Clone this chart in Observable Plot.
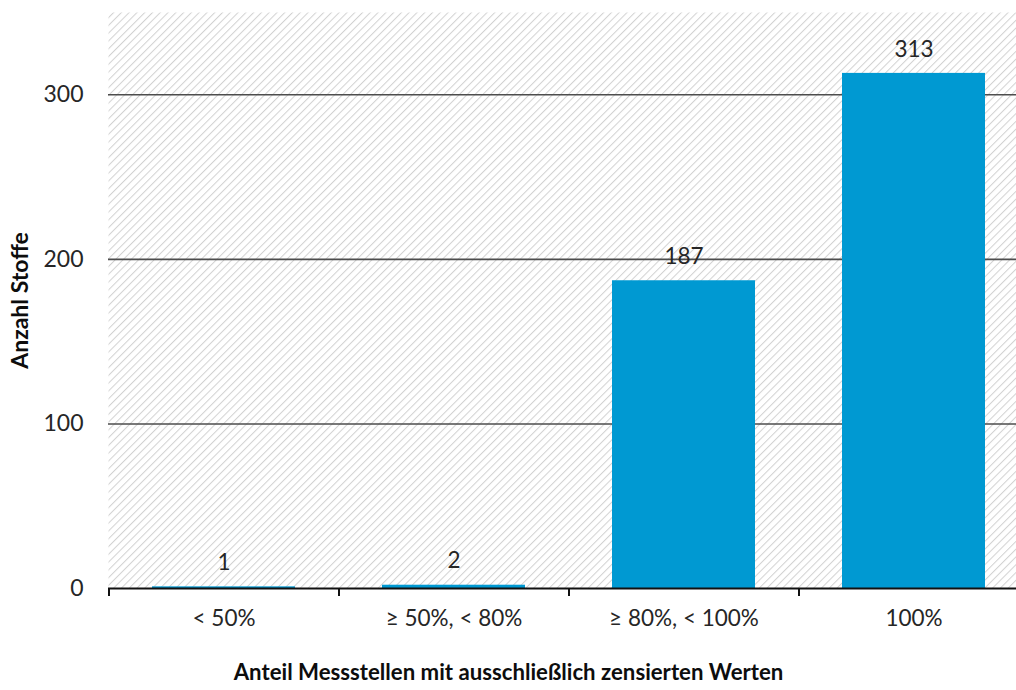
<!DOCTYPE html>
<html>
<head>
<meta charset="utf-8">
<script src="https://cdn.jsdelivr.net/npm/d3@7"></script>
<script src="https://cdn.jsdelivr.net/npm/@observablehq/plot@0.6"></script>
<style>
  html, body { margin: 0; padding: 0; background: #fff; overflow: hidden; }
  #chart svg { display: block; }
</style>
</head>
<body>
<div id="chart"></div>
<script>
// Anzahl Stoffe je Klasse des Anteils an Messstellen mit ausschließlich zensierten Werten
const categories = ["< 50%", "≥ 50%, < 80%", "≥ 80%, < 100%", "100%"];
const counts = [1, 2, 187, 313];
const yTicks = [0, 100, 200, 300];

const data = categories.map((c, i) => ({category: c, count: counts[i]}));

const font = "Lato, 'Open Sans', sans-serif";
const barColor = "#0099d2";

// the category axis spans four equal bands; the last band runs past the right edge
const xRange = [108, 1028];
const step = (xRange[1] - xRange[0]) / categories.length;
const width = 1016;

const plot = Plot.plot({
  width,
  height: 690,
  marginTop: 12,
  marginLeft: 108,
  marginRight: 0,
  marginBottom: 102,
  style: {fontFamily: font, fontSize: "22px", color: "#262626", background: "#fff", overflow: "hidden"},
  x: {domain: categories, range: xRange, paddingInner: 0.38, paddingOuter: 0.19, align: 0.5},
  y: {domain: [0, 350]},
  marks: [
    Plot.frame({fill: "url(#hatch)", stroke: null}),
    Plot.ruleY(yTicks.filter(d => d > 0), {stroke: "#4d4d4d", strokeWidth: 1.6}),
    Plot.barY(data, {x: "category", y: "count", fill: barColor}),
    Plot.text(data, {x: "category", y: "count", text: d => String(d.count), dy: -24,
      fontSize: 22.5, fill: "#262626"}),
    Plot.ruleY([0], {stroke: "#111", strokeWidth: 2}),
    // tick marks sit on the category boundaries
    Plot.axisX({tickSize: 8, tickPadding: 0, text: null, dx: -step / 2, stroke: "#111", strokeWidth: 2, label: null}),
    Plot.axisX({tickSize: 0, tickPadding: 22, fontSize: 22.5, fill: "#262626", label: null}),
    Plot.axisY({ticks: yTicks, tickSize: 0, tickPadding: 25, fontSize: 23, fill: "#262626", label: null}),
    // x title is centred on the whole figure, not on the plot area
    Plot.text(["Anteil Messstellen mit ausschließlich zensierten Werten"], {
      frameAnchor: "bottom", dy: 91, dx: -108 / 2, text: d => d, fontWeight: "bold", fontSize: 22.2, fill: "#0d0d0d"
    }),
    Plot.text(["Anzahl Stoffe"], {
      frameAnchor: "left", textAnchor: "middle", dx: -88, rotate: -90, text: d => d,
      fontWeight: "bold", fontSize: 23, fill: "#0d0d0d"
    })
  ]
});

// diagonal hatch used as the plot-area background
const svg = d3.select(plot);
const defs = svg.insert("defs", ":first-child");
const pat = defs.append("pattern")
  .attr("id", "hatch")
  .attr("patternUnits", "userSpaceOnUse")
  .attr("width", 5.5)
  .attr("height", 5.5)
  .attr("patternTransform", "rotate(45)");
pat.append("rect").attr("width", 5.5).attr("height", 5.5).attr("fill", "#ffffff");
pat.append("line")
  .attr("x1", 0).attr("y1", 0).attr("x2", 0).attr("y2", 5.5)
  .attr("stroke", "#d2d2d2").attr("stroke-width", 2);

document.getElementById("chart").appendChild(plot);
</script>
</body>
</html>
